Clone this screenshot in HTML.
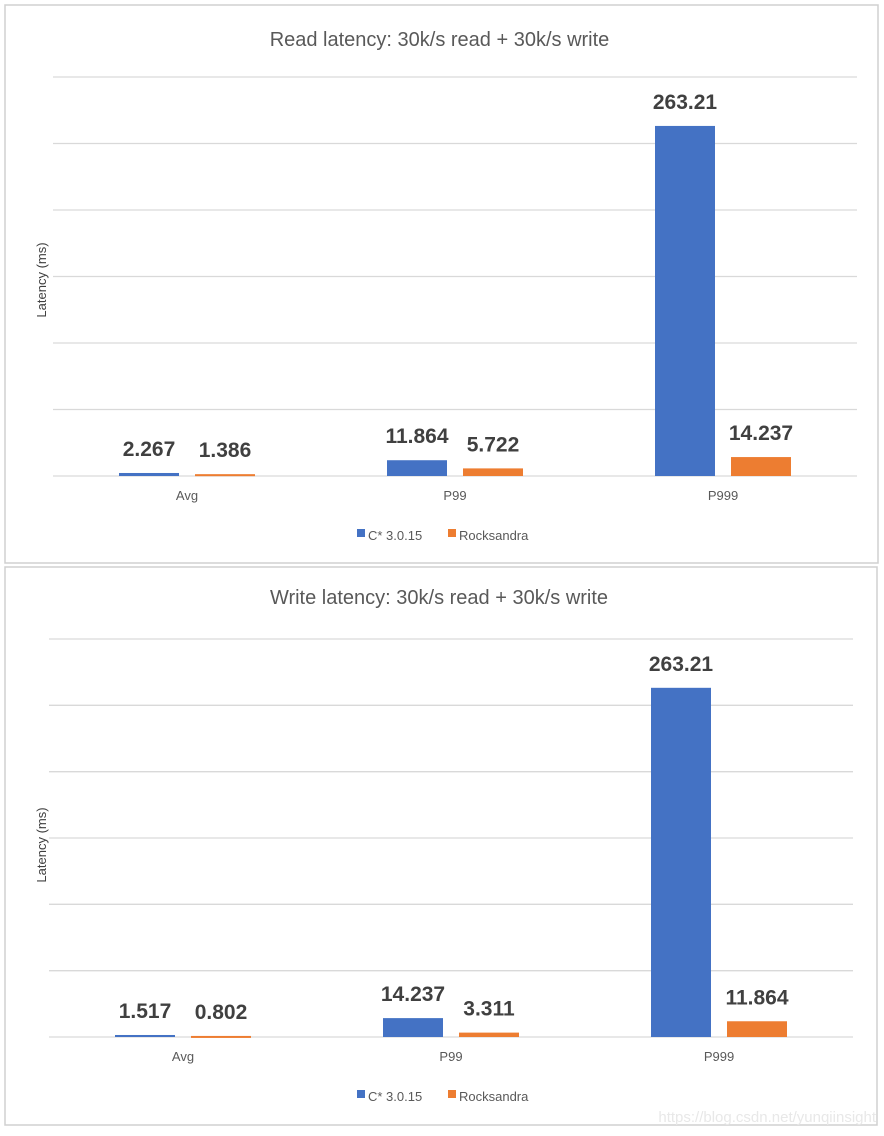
<!DOCTYPE html>
<html><head><meta charset="utf-8"><style>
html,body{margin:0;padding:0;background:#fff;width:884px;height:1136px;overflow:hidden}
svg{display:block}
text{font-family:"Liberation Sans",sans-serif}
</style></head><body>
<svg id="root" width="884" height="1136" xmlns="http://www.w3.org/2000/svg"></svg>
<script>
const categories = ["Avg", "P99", "P999"];
const seriesNames = ["C* 3.0.15", "Rocksandra"];
const readC = [2.267, 11.864, 263.21];
const readR = [1.386, 5.722, 14.237];
const readLabels = ["2.267","1.386","11.864","5.722","263.21","14.237"];
const writeC = [1.517, 14.237, 263.21];
const writeR = [0.802, 3.311, 11.864];
const writeLabels = ["1.517","0.802","14.237","3.311","263.21","11.864"];
const yTicks = [0, 50, 100, 150, 200, 250, 300];
const colors = ["#4472c4", "#ed7d31"];
const NS = "http://www.w3.org/2000/svg";
const root = document.getElementById("root");
function mk(tag, attrs, parent, txt){
  const e = document.createElementNS(NS, tag);
  for (const k in attrs) e.setAttribute(k, attrs[k]);
  if (txt !== undefined) e.textContent = txt;
  parent.appendChild(e); return e;
}
function chart(opt){
  const g = mk("g", {}, root);
  
  
  const frame = mk("rect", {x:opt.fx, y:opt.fy, width:opt.fw, height:opt.fh, fill:"#fff", stroke:"#d0d0d0", "stroke-width":1.5}, g);
  
  
  const t = mk("text", {x:opt.fx+opt.fw/2-2, y:opt.titleY, "text-anchor":"middle", "font-size":20, fill:"#595959"}, g, opt.title);
  
  
  const x0 = opt.px, w = opt.pw, base = opt.base, scale = opt.scale;
  const yOf = v => base - v*scale;
  yTicks.forEach(v=>{
    const l = mk("line", {x1:x0, x2:x0+w, y1:yOf(v), y2:yOf(v), stroke:"#d9d9d9", "stroke-width":1.3}, g);
    
    
  });
  const yt = mk("text", {x:0, y:0, transform:`translate(${opt.fx+41},${opt.ytY}) rotate(-90)`, "text-anchor":"middle", "font-size":13, fill:"#404040"}, g, "Latency (ms)");
  
  
  const cw = w/categories.length, bw = 60, gap = 16;
  categories.forEach((c,i)=>{
    const cx = x0 + cw*(i+0.5);
    [opt.a, opt.b].forEach((arr,s)=>{
      const v = arr[i];
      const bx = s===0 ? cx - gap/2 - bw : cx + gap/2;
      const r = mk("rect", {x:bx, y:yOf(v), width:bw, height:Math.max(v*scale,2), fill:colors[s]}, g);
      
      
      const lb = mk("text", {x:bx+bw/2, y:yOf(v)-17, "text-anchor":"middle", "font-size":21, "font-weight":"bold", fill:"#404040"}, g, opt.labels[i*2+s]);
      
      
    });
    const cl = mk("text", {x:cx, y:base+24, "text-anchor":"middle", "font-size":13, fill:"#595959"}, g, c);
    
    
  });
  const lx = [357, 448];
  seriesNames.forEach((n,s)=>{
    const sq = mk("rect", {x:lx[s], y:opt.legY-9, width:8, height:8, fill:colors[s]}, g);
    
    
    const lt = mk("text", {x:lx[s]+11, y:opt.legY+2, "font-size":13, fill:"#595959"}, g, n);
    
    
  });
}
chart({name:"read-latency-chart", fx:5, fy:5, fw:873, fh:558, title:"Read latency: 30k/s  read + 30k/s write", titleY:46,
  px:53, pw:804, base:476, scale:399/300, ytY:280, legY:538, a:readC, b:readR, labels:readLabels});
chart({name:"write-latency-chart", fx:5, fy:567, fw:872, fh:558, title:"Write latency: 30k/s read + 30k/s write", titleY:604,
  px:49, pw:804, base:1037, scale:398/300, ytY:845, legY:1099, a:writeC, b:writeR, labels:writeLabels});
const wm = mk("text", {x:876, y:1122, "text-anchor":"end", "font-size":15, fill:"#e8e8e8"}, root, "https://blog.csdn.net/yunqiinsight");


</script>
</body></html>
